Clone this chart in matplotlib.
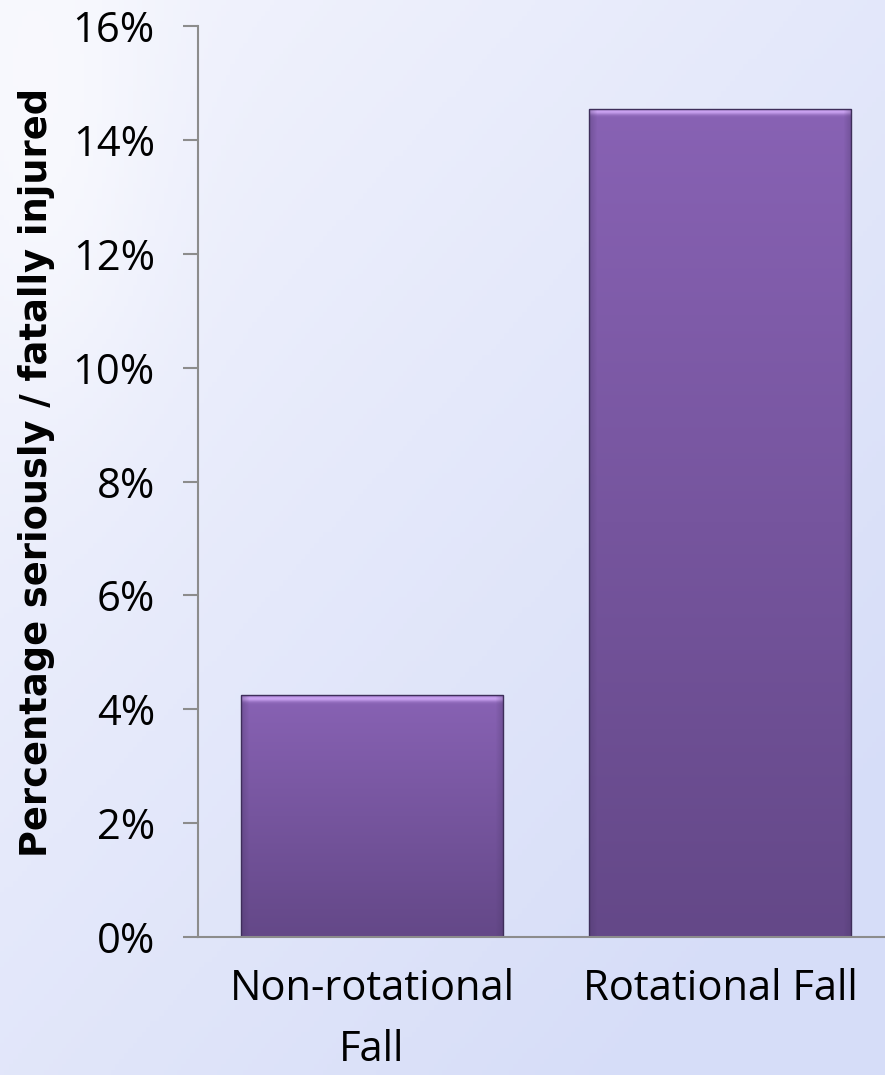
import numpy as np
import matplotlib.pyplot as plt
from matplotlib.colors import to_rgb
from matplotlib.ticker import FuncFormatter

categories = ["Non-rotational\nFall", "Rotational Fall"]
values = [4.25, 14.55]
yticks = [0, 2, 4, 6, 8, 10, 12, 14, 16]

fig = plt.figure(figsize=(8.85, 10.75), dpi=100)

# background gradient
bg = fig.add_axes([0, 0, 1, 1], zorder=-10)
bg.axis("off")
h, w = 200, 200
yy, xx = np.mgrid[0:1:h * 1j, 0:1:w * 1j]
t = np.clip(0.55 * xx + 0.6 * yy, 0, 1)
c0 = np.array(to_rgb("#f4f5fd"))
c1 = np.array(to_rgb("#d6ddf8"))
img = c0[None, None, :] * (1 - t[..., None]) + c1[None, None, :] * t[..., None]
# soft light blotch at upper left
blot = np.exp(-(((xx - 0.05) / 0.12) ** 2 + ((yy - 0.12) / 0.25) ** 2))
img = img * (1 - 0.5 * blot[..., None]) + 0.5 * blot[..., None]
bg.imshow(img, aspect="auto", extent=[0, 1, 0, 1], origin="upper")
bg.set_xlim(0, 1)
bg.set_ylim(0, 1)

ax = fig.add_axes([198 / 885, 1 - 937 / 1075, 1 - 198 / 885, (937 - 26) / 1075])
ax.patch.set_alpha(0)

x = np.arange(len(categories))
bars = ax.bar(x, values, width=0.753, color="#7a58a6", edgecolor="#3e2e5a",
              linewidth=1.0, zorder=2)

ax.set_xlim(-0.5, 1.474)
ax.set_ylim(0, 16)
ax.set_yticks(yticks)
ax.yaxis.set_major_formatter(FuncFormatter(lambda v, p: f"{v:.0f}%"))
ax.set_xticks(x)
ax.set_xticklabels(categories)

for s in ["top", "right"]:
    ax.spines[s].set_visible(False)
for s in ["left", "bottom"]:
    ax.spines[s].set_color("#8c8c8c")
    ax.spines[s].set_linewidth(1.5)
    ax.spines[s].set_zorder(3)

ax.tick_params(axis="y", direction="out", length=11, width=1.5, color="#8c8c8c",
               labelsize=30, pad=20, labelcolor="black")
ax.tick_params(axis="x", length=0, labelsize=30, pad=22, labelcolor="black")
for lab in ax.get_xticklabels() + ax.get_yticklabels():
    lab.set_fontfamily("Open Sans")
    lab.set_linespacing(1.6)

ax.set_ylabel("Percentage seriously / fatally injured", fontsize=26.5,
              fontweight="bold", fontfamily="DejaVu Sans")
ax.yaxis.set_label_coords(-0.208, 0.51)

# gradient fill with bevel for each bar
top_c = np.array(to_rgb("#8862b4"))
bot_c = np.array(to_rgb("#644888"))
light = np.array(to_rgb("#d4acfa"))
dark = np.array(to_rgb("#4a3668"))
fig.canvas.draw()
for b in bars:
    bb = b.get_window_extent()
    nh = max(int(bb.height), 2)
    nw = max(int(bb.width), 2)
    fr = np.linspace(0, 1, nh)[:, None, None]
    im = top_c * (1 - fr) + bot_c * fr
    im = np.repeat(im, nw, axis=1)
    # top bevel highlight
    for i in range(min(12, nh)):
        a = 0.85 * np.exp(-((i - 3) / 3.0) ** 2)
        im[i] = im[i] * (1 - a) + light * a
    # side shading
    for j in range(min(8, nw)):
        a = 0.35 * (1 - j / 8)
        im[:, j] = im[:, j] * (1 - a) + dark * a
        im[:, -1 - j] = im[:, -1 - j] * (1 - a) + dark * a
    x0 = b.get_x()
    ext = [x0, x0 + b.get_width(), 0, b.get_height()]
    ii = ax.imshow(im, extent=ext, aspect="auto", origin="upper", zorder=2.1,
                   interpolation="bilinear")
    ii.set_clip_path(b)
    b.set_facecolor("none")
    b.set_zorder(2.2)

ax.set_xlim(-0.5, 1.474)
ax.set_ylim(0, 16)

fig.savefig("out.png", dpi=100)
